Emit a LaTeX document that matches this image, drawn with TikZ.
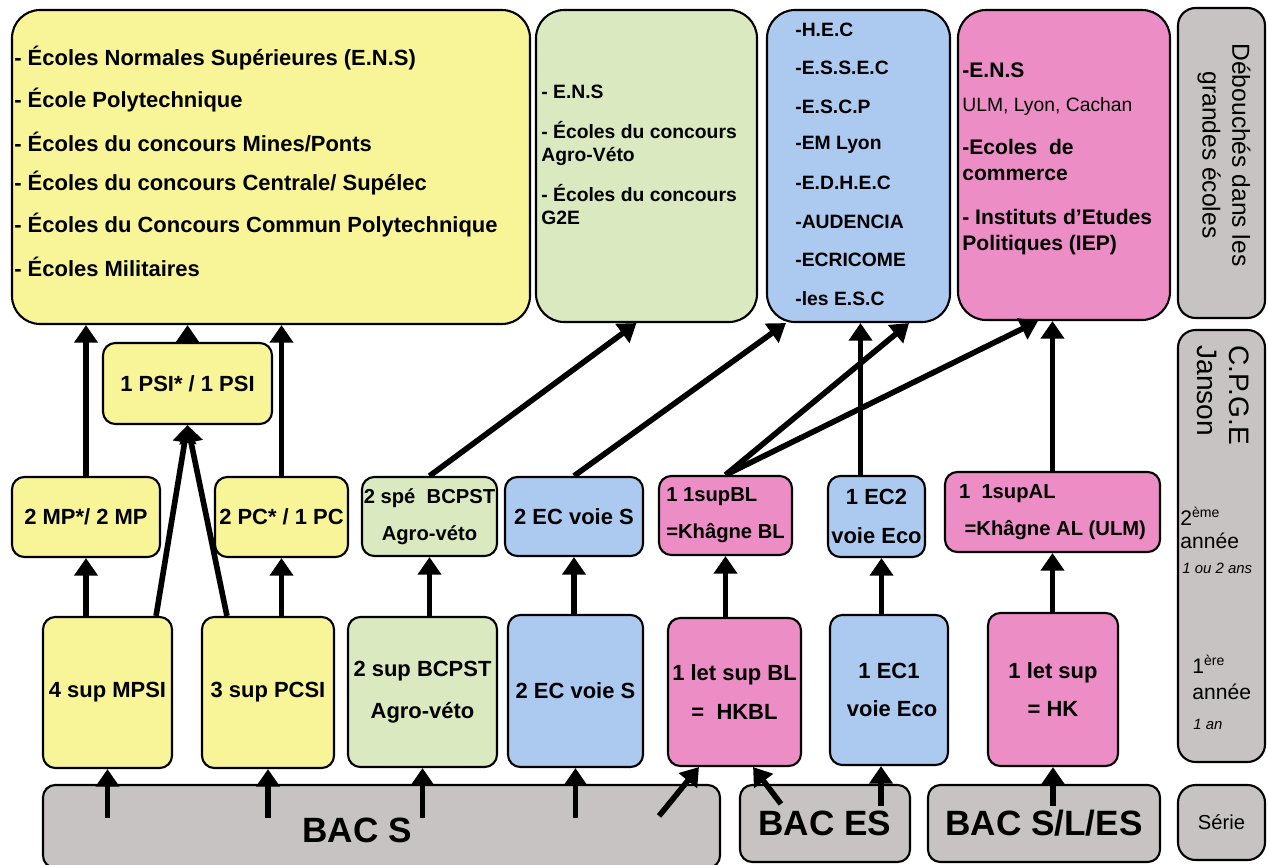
\documentclass[tikz,border=0pt]{standalone}
\usepackage{fontspec}
\setmainfont{Liberation Sans}
\usetikzlibrary{arrows.meta,calc,fit}

\definecolor{jaune}{RGB}{248,244,152}
\definecolor{vert}{RGB}{218,233,192}
\definecolor{bleu}{RGB}{172,201,240}
\definecolor{rose}{RGB}{237,141,198}
\definecolor{gris}{RGB}{200,195,195}

\begin{document}
\begin{tikzpicture}[x=0.02cm,y=-0.02cm,
  boite/.style={draw=black,line width=1.2pt,inner sep=0pt,rounded corners=7pt},
  grande/.style={boite,rounded corners=16pt},
  texte/.style={inner sep=0pt,align=center,font=\fontsize{12.5}{22}\selectfont\bfseries},
  bac/.style={boite,fill=gris},
  bactexte/.style={inner sep=0pt,font=\fontsize{20}{24}\selectfont\bfseries},
  liste/.style={anchor=west,inner sep=0pt,font=\fontsize{11}{13}\selectfont\bfseries},
  cote/.style={inner sep=0pt,align=left,font=\fontsize{12}{14}\selectfont},
  fleche/.style={line width=3.2pt,-{Triangle[width=13pt,length=10pt]}}]
\useasboundingbox (0,0) rectangle (1268,865);

% grandes écoles
\node[grande,fill=jaune,fit={(12,10) (530,324)}] (ecoles) {};
\foreach \t [count=\i] in {- Écoles Normales Supérieures (E.N.S),- École Polytechnique,
  - Écoles du concours Mines/Ponts,- Écoles du concours Centrale/ Supélec,
  - Écoles du Concours Commun Polytechnique,- Écoles Militaires}
  \node[liste,font=\fontsize{12.5}{15}\selectfont\bfseries] (ecoles-\i) at (14,{58+41.8*(\i-1)}) {\t};

\node[grande,fill=vert,fit={(536,10) (757,322)}] (agro) {};
\node[liste] (agro-1) at (541,92) {- E.N.S};
\node[liste] (agro-2) at (541,130) {- Écoles du concours};
\node[liste] (agro-3) at (541,156) {Agro-Véto};
\node[liste] (agro-4) at (541,193) {- Écoles du concours};
\node[liste] (agro-5) at (541,218) {G2E};

\node[grande,fill=bleu,fit={(767,10) (950,322)}] (commerce) {};
\foreach \t [count=\i] in {-H.E.C,-E.S.S.E.C,-E.S.C.P,-EM Lyon,-E.D.H.E.C,-AUDENCIA,-ECRICOME,-les E.S.C}
  \node[liste] (commerce-\i) at (795,{30+38.3*(\i-1)}) {\t};

\node[grande,fill=rose,fit={(958,10) (1170,320)}] (lettres) {};
\node[liste,font=\fontsize{12}{14}\selectfont\bfseries] (lettres-1) at (962,70) {-E.N.S};
\node[liste,font=\fontsize{11}{13}\selectfont] (lettres-2) at (962,107) {ULM, Lyon, Cachan};
\node[liste,font=\fontsize{12}{14}\selectfont\bfseries] (lettres-3) at (962,147) {-Ecoles~ de};
\node[liste,font=\fontsize{12}{14}\selectfont\bfseries] (lettres-4) at (962,175) {commerce};
\node[liste,font=\fontsize{12}{14}\selectfont\bfseries] (lettres-5) at (962,217) {- Instituts d’Etudes};
\node[liste,font=\fontsize{12}{14}\selectfont\bfseries] (lettres-6) at (962,245) {Politiques (IEP)};

% colonne de droite
\node[boite,fill=gris,rounded corners=10pt,fit={(1178,8) (1265,318)}] (debouches) {};
\node[cote,rotate=-90,align=center,font=\fontsize{14}{17}\selectfont] (debouches-t) at (1224,155)
  {Débouchés dans les\\grandes écoles};
\node[boite,fill=gris,rounded corners=10pt,fit={(1178,330) (1265,762)}] (cpge) {};
\node[cote,rotate=-90,anchor=west,font=\fontsize{16}{18}\selectfont] (cpge-t) at (1223,345) {C.P.G.E\\Janson};
\node[cote,anchor=west] (an2) at (1180,516) {2\textsuperscript{ème}};
\node[cote,anchor=west] (an2-t) at (1180,541) {année};
\node[cote,anchor=west,font=\fontsize{8.5}{10}\selectfont\itshape] (an2-d) at (1182,568) {1 ou 2 ans};
\node[cote,anchor=west] (an1) at (1192,664) {1\textsuperscript{ère}};
\node[cote,anchor=west] (an1-t) at (1192,692) {année};
\node[cote,anchor=west,font=\fontsize{8.5}{10}\selectfont\itshape] (an1-d) at (1193,724) {1 an};
\node[boite,fill=gris,rounded corners=10pt,fit={(1178,785) (1265,860)},
  label={[cote,font=\fontsize{11.5}{14}\selectfont]center:Série}] (serie) {};

% deuxième année
\node[boite,fill=jaune,fit={(103,343) (272,424)},label={[texte]center:1 PSI* / 1 PSI}] (psi) {};
\node[boite,fill=jaune,fit={(12,477) (160,557)},label={[texte]center:2 MP*/ 2 MP}] (mp) {};
\node[boite,fill=jaune,fit={(215,477) (348,557)},label={[texte]center:2 PC* / 1 PC}] (pc) {};
\node[boite,fill=vert,fit={(362,477) (497,556)},
  label={[texte,font=\fontsize{11.5}{21}\selectfont\bfseries]center:{2 spé~~BCPST\\Agro-véto}}] (spe) {};
\node[boite,fill=bleu,fit={(505,477) (643,556)},label={[texte]center:2 EC voie S}] (ecs2) {};
\node[boite,fill=rose,fit={(659,476) (792,555)},
  label={[texte,align=left,font=\fontsize{11.5}{21}\selectfont\bfseries]center:{1 1supBL\\=Khâgne BL}}] (supbl) {};
\node[boite,fill=bleu,fit={(828,476) (925,557)},label={[texte]center:{1 EC2\\voie Eco}}] (ec2) {};
\node[boite,fill=rose,fit={(945,472) (1160,552)},
  label={[texte,align=left,font=\fontsize{11.5}{21}\selectfont\bfseries]center:{1~~1supAL\\~=Khâgne AL (ULM)}}] (supal) {};

% première année
\node[boite,fill=jaune,fit={(43,617) (172,768)},label={[texte]center:4 sup MPSI}] (mpsi) {};
\node[boite,fill=jaune,fit={(202,617) (334,768)},label={[texte]center:3 sup PCSI}] (pcsi) {};
\node[boite,fill=vert,fit={(348,617) (497,767)},
  label={[texte,font=\fontsize{12.5}{24}\selectfont\bfseries]center:{2 sup BCPST\\Agro-véto}}] (bcpst) {};
\node[boite,fill=bleu,fit={(508,615) (643,767)},label={[texte]center:2 EC voie S}] (ecs1) {};
\node[boite,fill=rose,fit={(668,618) (801,766)},label={[texte]center:{1 let sup BL\\= ~HKBL}}] (hkbl) {};
\node[boite,fill=bleu,fit={(830,615) (948,765)},label={[texte]center:{1 EC1\\~voie Eco}}] (ec1) {};
\node[boite,fill=rose,fit={(988,613) (1118,766)},label={[texte]center:{1 let sup\\= HK}}] (hk) {};

% bacs
\node[bac,fit={(43,785) (720,868)}] (bacs) {};
\node[bactexte] (bacs-t) at (357,830) {BAC S};
\node[bac,fit={(740,785) (910,862)},label={[bactexte]center:BAC ES}] (bacses) {};
\node[bac,fit={(928,785) (1160,862)},label={[bactexte]center:BAC S/L/ES}] (bacsles) {};
\coordinate (bas) at (0,818);
\coordinate (basES) at (0,806);

% vers les grandes écoles
\draw[fleche] (mp.north) -- (mp.north |- ecoles.south);
\draw[fleche] (psi.north) -- (psi.north |- ecoles.south);
\draw[fleche] (pc.north) -- (pc.north |- ecoles.south);
\draw[fleche] (spe.north) -- ($(agro.south)+(-10,0)$);
\draw[fleche] (ecs2.north) -- ($(commerce.south west)+(20,0)$);
\draw[fleche] (supbl.north) -- ($(commerce.south east)+(-42,0)$);
\draw[fleche] (supbl.north) -- ($(lettres.south west)+(81,0)$);
\draw[fleche] ($(ec2.north)+(-16,0)$) -- ($(ec2.north |- commerce.south)+(-16,0)$);
\draw[fleche] (supal.north) -- (supal.north |- lettres.south);

% première -> deuxième année
\draw[fleche] (mp.south |- mpsi.north) -- (mp.south);
\draw[fleche] ($(mpsi.north east)+(-17,0)$) -- (psi.south);
\draw[fleche] ($(pcsi.north west)+(26,0)$) -- (psi.south);
\draw[fleche] (pc.south |- pcsi.north) -- (pc.south);
\draw[fleche] (spe.south |- bcpst.north) -- (spe.south);
\draw[fleche] (ecs2.south |- ecs1.north) -- (ecs2.south);
\draw[fleche] (supbl.south |- hkbl.north) -- (supbl.south);
\draw[fleche] ($(ec2.south |- ec1.north)+(5,0)$) -- ($(ec2.south)+(5,0)$);
\draw[fleche] (supal.south |- hk.north) -- (supal.south);

% bac -> première année
\foreach \b in {mpsi,pcsi,bcpst,ecs1}
  \draw[fleche] (\b.south |- bas) -- (\b.south);
\draw[fleche] ($(ec1.south |- basES)+(-8,0)$) -- ($(ec1.south)+(-8,0)$);
\draw[fleche] (hk.south |- basES) -- (hk.south);
\draw[fleche] ($(bacs.north east)+(-62,32)$) -- ($(hkbl.south west)+(32,0)$);
\draw[fleche] ($(bacses.north west)+(42,20)$) -- ($(hkbl.south east)+(-49,0)$);
\end{tikzpicture}
\end{document}
